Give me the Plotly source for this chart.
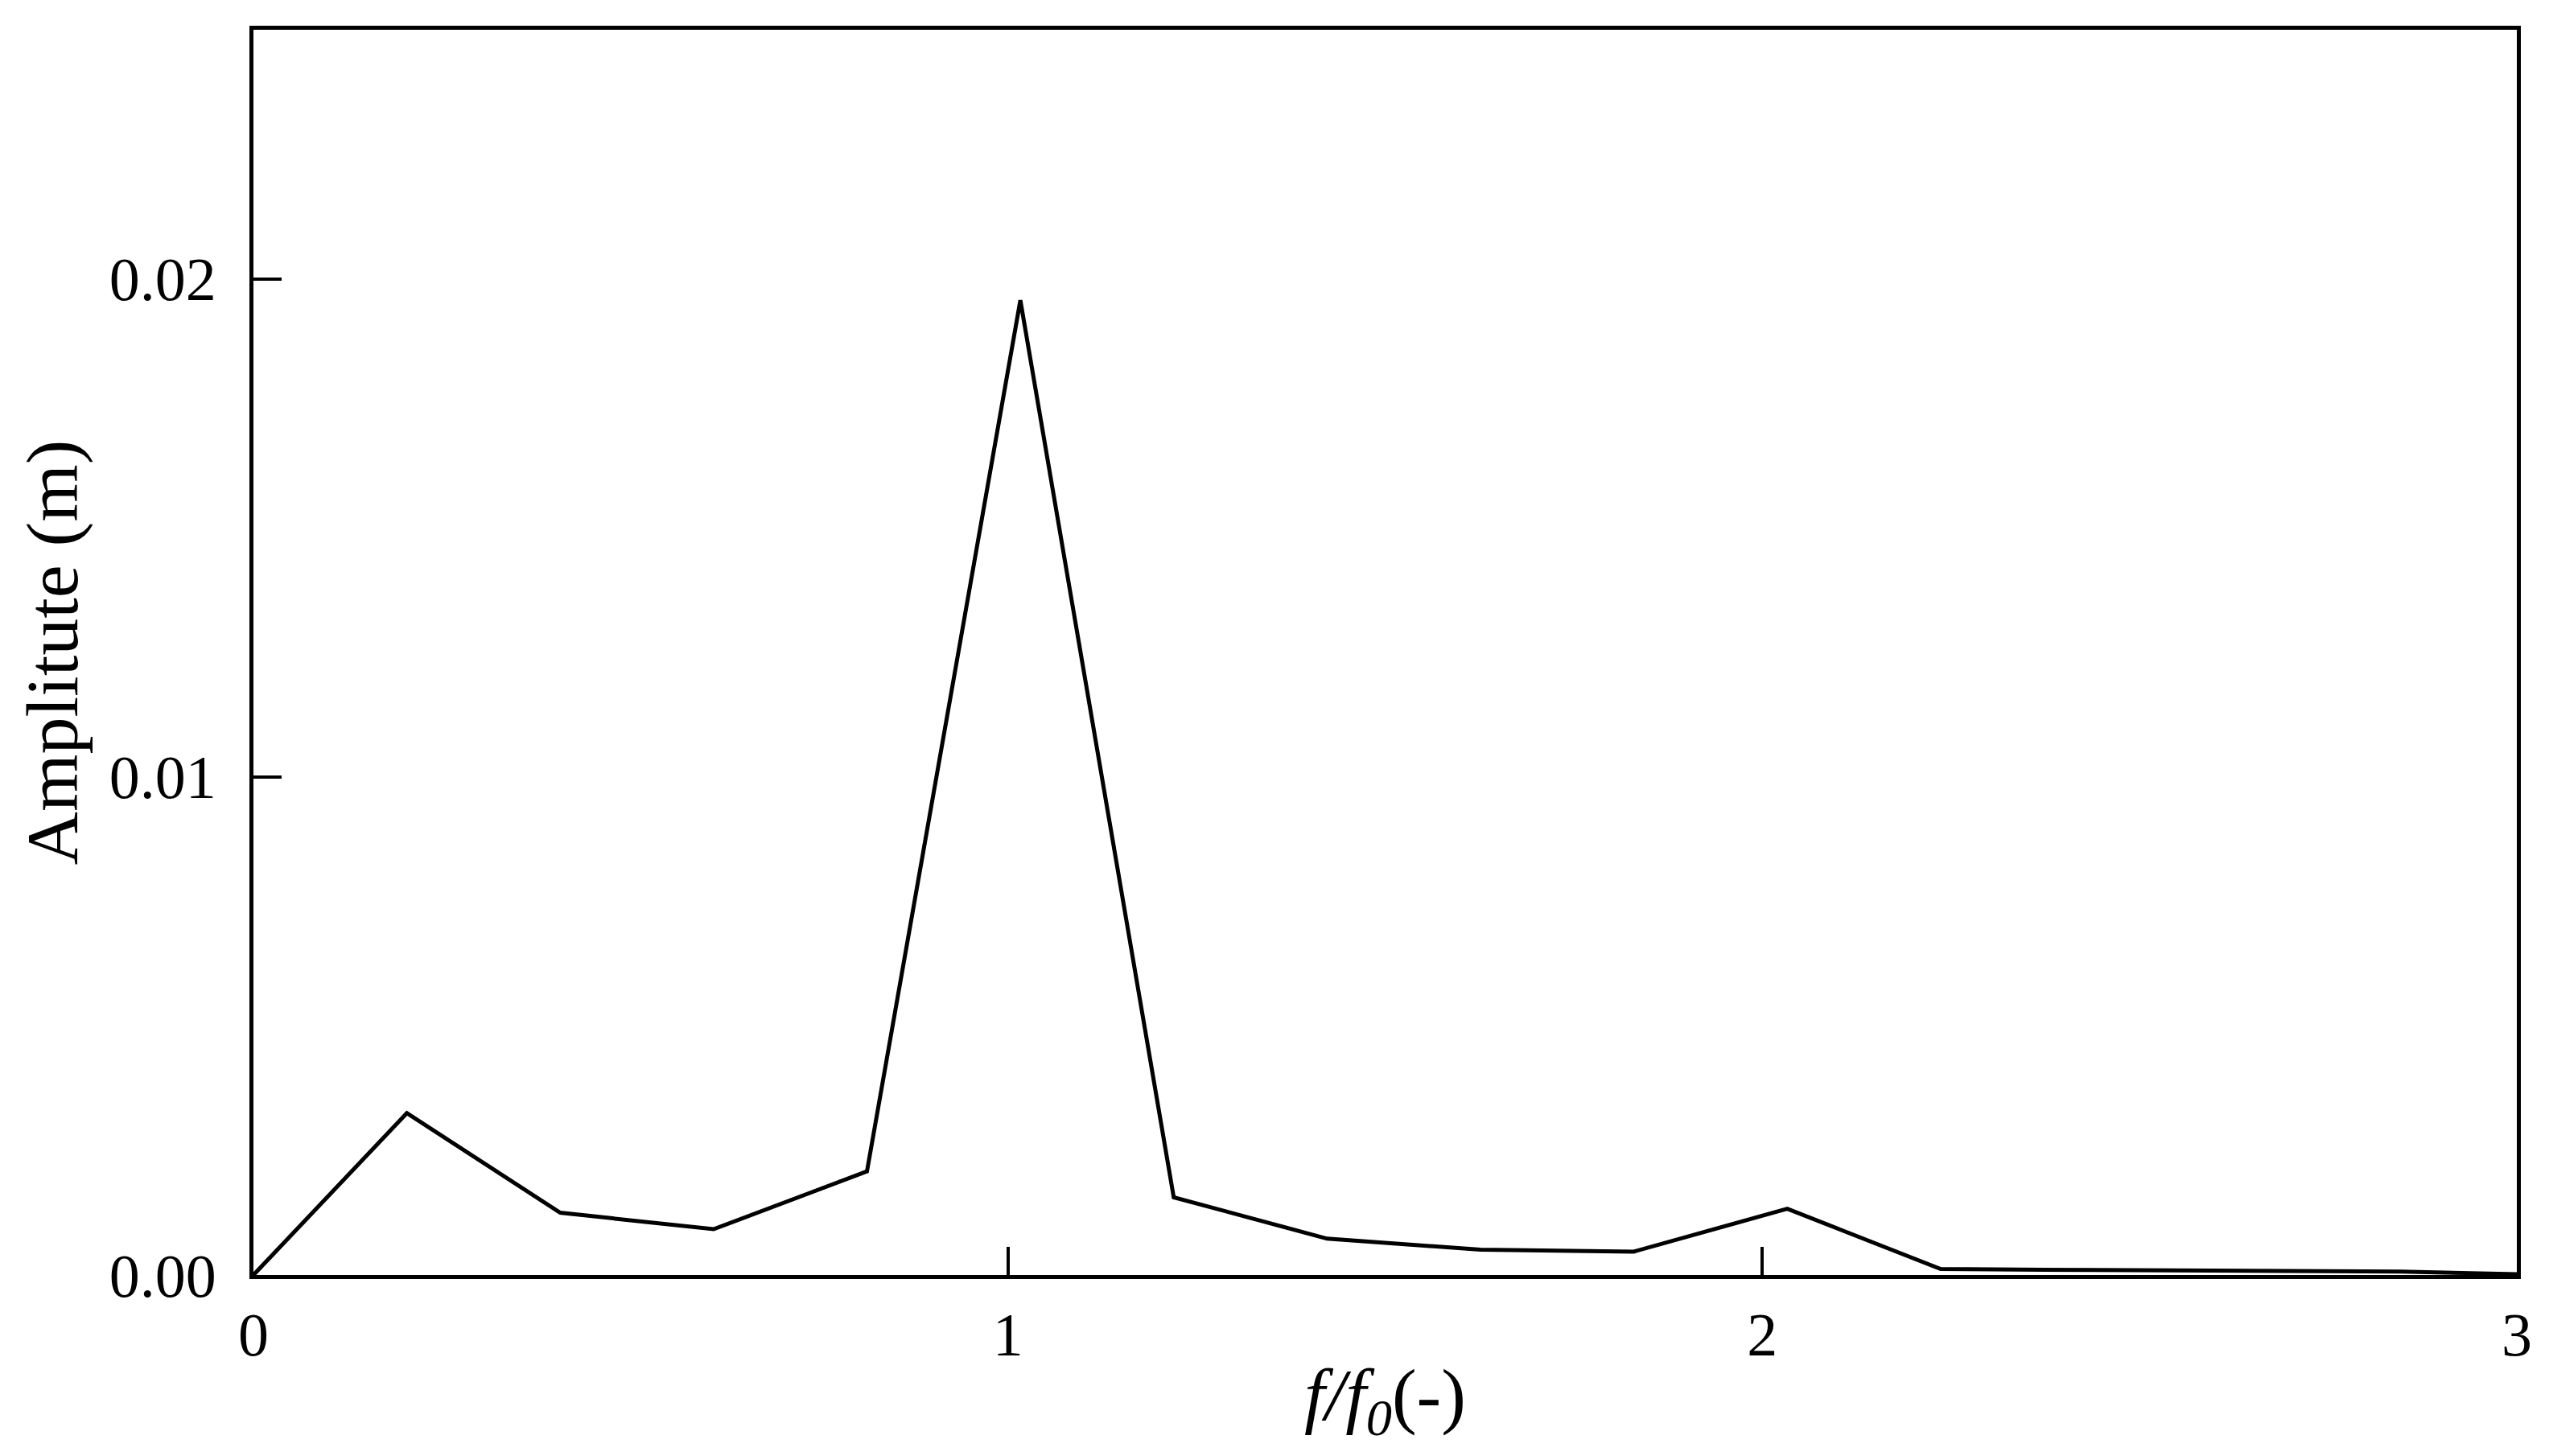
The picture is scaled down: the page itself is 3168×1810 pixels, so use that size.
import plotly.graph_objects as go

# frequency ratio f/f0 and amplitude (m)
freq_ratio = [0.0, 0.2033, 0.4066, 0.6099, 0.8132, 1.0165, 1.2198, 1.4231,
              1.6264, 1.8297, 2.033, 2.2363, 2.4396, 2.6429, 2.8462, 3.0495]
amplitude = [0.0, 0.00325, 0.00125, 0.00092, 0.00208, 0.01957, 0.00156, 0.00073,
             0.00051, 0.00047, 0.00133, 0.00012, 0.0001, 0.00009, 0.00007, 0.0]

x_ticks = [0, 1, 2, 3]
y_ticks = [0, 0.01, 0.02]
y_tick_labels = ["0.00", "0.01", "0.02"]

fig = go.Figure()
fig.add_trace(go.Scatter(x=freq_ratio, y=amplitude, mode="lines",
                         line=dict(color="black", width=5),
                         showlegend=False))

fig.update_layout(
    width=3168, height=1810,
    margin=dict(l=307, r=48, t=29, b=233),
    paper_bgcolor="white", plot_bgcolor="white",
    font=dict(family="Liberation Serif", size=76, color="black"),
)
fig.update_xaxes(range=[0, 3], tickvals=x_ticks, ticks="inside", ticklen=35,
                 tickwidth=4, tickcolor="black", showline=True, mirror=True,
                 linecolor="black", linewidth=5, showgrid=False, zeroline=False,
                 ticklabelstandoff=4,
                 title=dict(text="<i>f/f<sub>0</sub></i>(-)", font=dict(size=92),
                            standoff=2))
fig.update_yaxes(range=[0, 0.025], tickvals=y_ticks, ticktext=y_tick_labels,
                 ticks="inside", ticklen=35, tickwidth=4, tickcolor="black",
                 showline=True, mirror=True, linecolor="black", linewidth=5,
                 showgrid=False, zeroline=False, ticklabelstandoff=26,
                 title=dict(text="Amplitute (m)", font=dict(size=92), standoff=10))

fig.write_html("out.html")
